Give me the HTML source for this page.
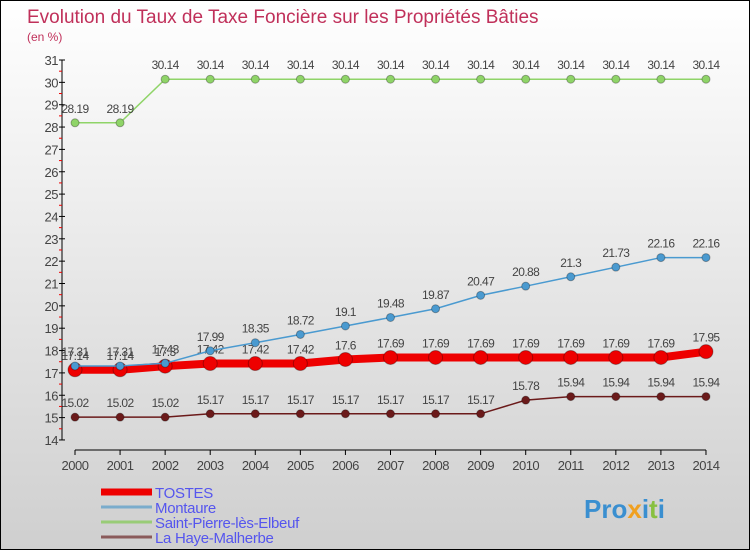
<!DOCTYPE html>
<html><head><meta charset="utf-8"><style>
body{margin:0}
#c{position:relative;width:748px;height:548px;border:1px solid #000;background:linear-gradient(#ffffff,#cfcfcf);overflow:hidden;font-family:"Liberation Sans",sans-serif}
</style></head><body>
<div id="c">
<svg id="s" width="748" height="548"></svg>
</div>
<script>
const years=[2000,2001,2002,2003,2004,2005,2006,2007,2008,2009,2010,2011,2012,2013,2014];
const tostes=[17.14,17.14,17.3,17.42,17.42,17.42,17.6,17.69,17.69,17.69,17.69,17.69,17.69,17.69,17.95];
const montaure=[17.31,17.31,17.43,17.99,18.35,18.72,19.1,19.48,19.87,20.47,20.88,21.3,21.73,22.16,22.16];
const stpierre=[28.19,28.19,30.14,30.14,30.14,30.14,30.14,30.14,30.14,30.14,30.14,30.14,30.14,30.14,30.14];
const lahaye=[15.02,15.02,15.02,15.17,15.17,15.17,15.17,15.17,15.17,15.17,15.78,15.94,15.94,15.94,15.94];
const yTicks=[14,15,16,17,18,19,20,21,22,23,24,25,26,27,28,29,30,31];
const NS="http://www.w3.org/2000/svg";
const s=document.getElementById('s');
const X=i=>74+i*45.07;
const Y=v=>59+(31-v)*22.35;
function el(t,a,p){const e=document.createElementNS(NS,t);for(const k in a)e.setAttribute(k,a[k]);(p||s).appendChild(e);return e;}
let t=el('text',{x:26,y:22,'font-size':19,fill:'#c0305a'});t.textContent='Evolution du Taux de Taxe Foncière sur les Propriétés Bâties';

t=el('text',{x:26,y:40,'font-size':12,fill:'#c0305a'});t.textContent='(en %)';

let ax=el('line',{x1:61,y1:Y(31),x2:61,y2:Y(14),stroke:'#000'});

yTicks.forEach(v=>{el('line',{x1:58,x2:64,y1:Y(v),y2:Y(v),stroke:'#000'});
 if(v<31)el('line',{x1:58,x2:61,y1:Y(v+0.5),y2:Y(v+0.5),stroke:'#e00'});
 const l=el('text',{x:57,y:Y(v)+5,'font-size':13,fill:'#444','text-anchor':'end','letter-spacing':'-0.5'});l.textContent=v;
 });
ax=el('line',{x1:X(0),y1:449,x2:X(14),y2:449,stroke:'#000'});

years.forEach((y,i)=>{el('line',{x1:X(i),x2:X(i),y1:449,y2:454,stroke:'#000'});
 const l=el('text',{x:X(i),y:469,'font-size':13,fill:'#444','text-anchor':'middle','letter-spacing':'-0.5'});l.textContent=y;
 });
function series(d,col,w,r,name){
 const g=el('g',{});
 el('polyline',{points:d.map((v,i)=>X(i)+','+Y(v)).join(' '),fill:'none',stroke:col,'stroke-width':w},g);
 d.forEach((v,i)=>{const c=el('circle',{cx:X(i),cy:Y(v),r:r,fill:col,stroke:'rgba(0,0,0,0.3)','stroke-width':1},g);
  
  const l=el('text',{x:X(i),y:Y(v)-10,'font-size':12,fill:'#444','text-anchor':'middle','letter-spacing':'-0.6'},g);l.textContent=v;});
}
series(lahaye,'#6b1a1a',1.5,4,'la-haye-malherbe');
series(stpierre,'#8fd468',1.5,4,'saint-pierre');
series(tostes,'#ee0000',8,7,'tostes');
series(montaure,'#4a9ad0',1.5,4,'montaure');
const leg=[['TOSTES','#ee0000',7],['Montaure','#7aaccc',3],['Saint-Pierre-lès-Elbeuf','#99cc77',3],['La Haye-Malherbe','#8a5a5a',3]];
leg.forEach((l,i)=>{const y=491+i*15;
 const g=el('g',{});
 el('line',{x1:100,x2:151,y1:y,y2:y,stroke:l[1],'stroke-width':l[2]},g);
 const tt=el('text',{x:154,y:y+6,'font-size':15,fill:'#5555ee','letter-spacing':'-0.3'},g);tt.textContent=l[0];});
t=el('text',{x:583,y:517,'font-size':26,'font-weight':'bold',fill:'#3a8fd0'});
t.innerHTML='Pro<tspan fill="#f0a020">x</tspan>i<tspan fill="#88c040">t</tspan>i';

</script>
</body></html>
